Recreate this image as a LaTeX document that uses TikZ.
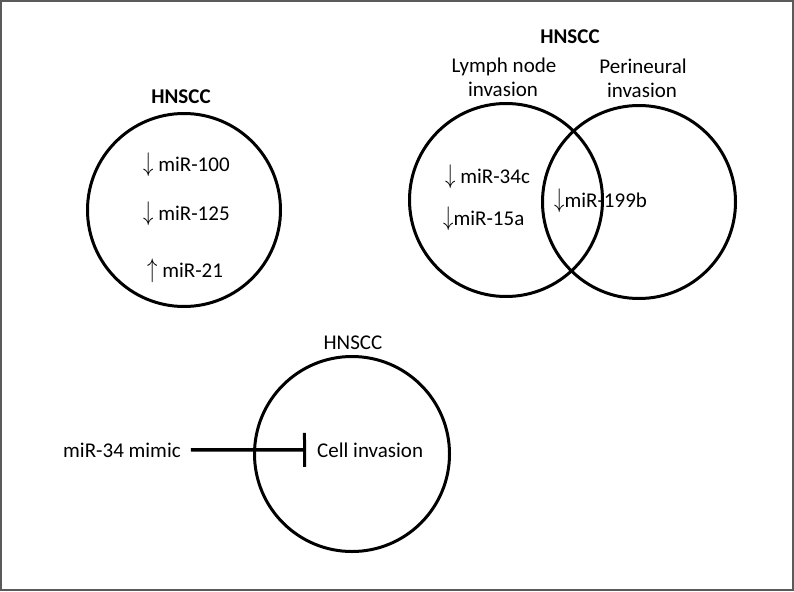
\documentclass[tikz,border=0pt]{standalone}
\usepackage{fontspec}
\setmainfont{Carlito}
\usetikzlibrary{arrows.meta}
\definecolor{frame}{HTML}{5A5A5A}
\tikzset{
  ring/.style={draw=black, line width=3pt, circle, minimum size=#1, inner sep=0pt},
  lbl/.style={font=\fontsize{21}{25}\selectfont, inner sep=0pt, anchor=base},
  lblw/.style={lbl, anchor=base west},
  hd/.style={lbl, font=\fontsize{21}{25}\selectfont\bfseries},
  inhib/.style={line width=3.5pt, -{Bar[width=34pt, line width=3pt]}},
}
\newcommand{\dn}{\raisebox{-0.5pt}{\scalebox{1}[1.3]{$\downarrow$}}}
\newcommand{\up}{\raisebox{-0.5pt}{\scalebox{1}[1.3]{$\uparrow$}}}
\begin{document}
\begin{tikzpicture}[x=1pt,y=-1pt]
\useasboundingbox (0,0) rectangle (794,591);
\draw[frame, line width=2pt] (1,1) rectangle (793,590);

% top-left circle
\node[ring=193pt] (c1) at (184,210) {};
\node[hd] (h1) at (181,103) {HNSCC};
\node[lblw] (m100) at (143,171) {\dn\ miR-100};
\node[lblw] (m125) at (143,220) {\dn\ miR-125};
\node[lblw] (m21) at (147,277) {\up\ miR-21};

% Venn
\node[ring=193pt] (vl) at (506,200) {};
\node[ring=193pt] (vr) at (639,202) {};
\node[hd] (h2) at (570,44) {HNSCC};
\node[lbl] (ln1) at (504,73) {Lymph node};
\node[lbl] (ln2) at (503,97) {invasion};
\node[lbl] (pn1) at (643,74) {Perineural};
\node[lbl] (pn2) at (642,98) {invasion};
\node[lblw] (m34c) at (445,183) {\dn\ miR-34c};
\node[lblw] (m15a) at (443,225) {\dn miR-15a};
\node[lblw] (m199b) at (554,207) {\dn miR-199b};

% bottom
\node[ring=195pt] (c3) at (352,454) {};
\node[lbl] (h3) at (353,349) {HNSCC};
\node[lblw] (mimic) at (63,457) {miR-34 mimic};
\node[lblw] (cell) at (317,457) {Cell invasion};
\draw[inhib] ([xshift=10pt]mimic.east) -- ([xshift=-11pt]cell.west);
\end{tikzpicture}
\end{document}
